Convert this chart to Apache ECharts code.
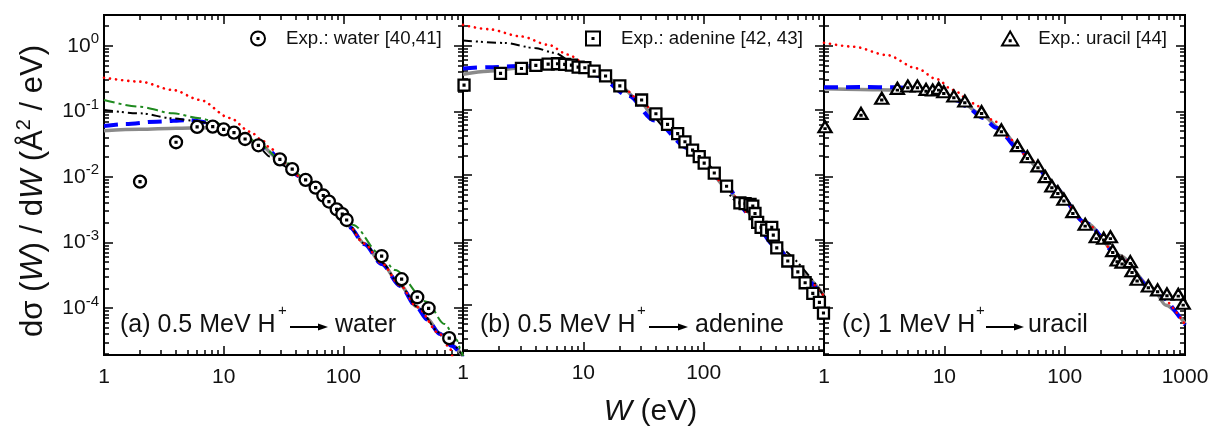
<!DOCTYPE html>
<html>
<head>
<meta charset="utf-8">
<title>Singly differential ionization cross sections</title>
<script src="https://cdn.jsdelivr.net/npm/echarts@6/dist/echarts.min.js"></script>
<style>
  html, body { margin: 0; padding: 0; background: #fff; }
  #chart { width: 1212px; height: 432px; }
</style>
</head>
<body>
<div id="chart"></div>
<script>
// ---------- axis ranges and ticks ----------
const X_MIN = 1, X_MAX = 1000;
const Y_MIN = 1.92e-5, Y_MAX = 2.94;
const xMajorTicks = [1, 10, 100, 1000];
const xLabelsAB = [1, 10, 100];
const xLabelsC = [1, 10, 100, 1000];
const yMajorTicks = [1e-4, 1e-3, 1e-2, 1e-1, 1];
const minorSteps = [2, 3, 4, 5, 6, 7, 8, 9];
const xDecades = [1, 10, 100];
const yDecades = [1e-5, 1e-4, 1e-3, 1e-2, 1e-1, 1];

// ---------- (a) 0.5 MeV H+ -> water ----------
const waterExpW = [2, 4, 6, 8.1, 10, 12.2, 15.1, 19.5, 29.5, 37.4, 48.4, 58.7, 68, 75.8, 87.9, 98, 106.6, 209, 307, 415, 516, 767];
const waterExpY = [0.00845, 0.0337, 0.0577, 0.0584, 0.053, 0.0472, 0.0378, 0.0303, 0.0185, 0.0131, 0.0090, 0.00684, 0.0052, 0.0042, 0.0032, 0.0027, 0.0022, 0.00062, 0.000275, 0.000146, 9.9e-5, 3.47e-5];

const waterGrayW = [1, 2, 4, 7, 10, 15, 20, 30, 46, 60, 80, 100, 113, 150, 209, 300, 410, 500, 641, 800, 1000];
const waterGrayY = [0.0506, 0.053, 0.055, 0.056, 0.052, 0.040, 0.0305, 0.0178, 0.0095, 0.0064, 0.0038, 0.0024, 0.00174, 0.00096, 0.00048, 0.00022, 0.000105, 6.9e-5, 4.13e-5, 2.75e-5, 1.84e-5];

const waterBlueW = [1, 1.5, 2.75, 5.2, 7.7, 10, 12.8, 18, 24.4, 30, 43.4, 60, 80, 100, 113, 150, 209, 300, 410, 500, 641, 800, 1000];
const waterBlueY = [0.0597, 0.064, 0.0695, 0.0735, 0.067, 0.057, 0.046, 0.032, 0.0242, 0.0178, 0.0101, 0.0063, 0.0037, 0.0023, 0.0017, 0.00094, 0.00047, 0.000215, 0.000103, 6.7e-5, 4.0e-5, 2.65e-5, 1.8e-5];

const waterGreenW = [1, 2, 3.77, 6.34, 8, 10, 15, 20, 30, 50, 80, 121, 200, 270, 496, 700, 885, 950, 1000];
const waterGreenY = [0.149, 0.117, 0.093, 0.0783, 0.071, 0.061, 0.043, 0.031, 0.0185, 0.0090, 0.0040, 0.00185, 0.00068, 0.00038, 0.000125, 5.7e-5, 3.27e-5, 2.4e-5, 1.8e-5];

const waterBlackW = [1, 2, 3.77, 5.5, 8, 10, 15, 20, 24.4, 30.6, 40, 50, 70, 100, 150, 209, 300, 410, 641, 1000];
const waterBlackY = [0.105, 0.093, 0.078, 0.072, 0.065, 0.057, 0.040, 0.027, 0.0204, 0.0152, 0.0112, 0.0083, 0.0049, 0.0024, 0.00097, 0.00049, 0.00022, 0.000106, 4.2e-5, 1.85e-5];

const waterRedW = [1, 2, 3.77, 6.34, 11.3, 16.6, 20.9, 24.4, 32.5, 45, 70, 100, 150, 209, 300, 410, 641, 780, 830];
const waterRedY = [0.325, 0.283, 0.211, 0.149, 0.079, 0.0489, 0.0365, 0.0275, 0.0163, 0.0095, 0.0049, 0.0024, 0.00096, 0.00048, 0.00022, 0.000104, 4.0e-5, 2.4e-5, 1.5e-5];

// ---------- (b) 0.5 MeV H+ -> adenine ----------
const adenineExpW = [1.02, 2.05, 3.06, 4.03, 5.1, 6.1, 7.0, 7.96, 9.05, 10.3, 12.3, 15.3, 20.1, 30.5, 40.1, 50.1, 60.8, 69.9, 80.9, 91.9, 101, 122.5, 155, 200, 221, 243, 256, 267, 281, 300, 334, 368, 379, 405, 500, 606, 697, 807, 916, 990];
const adenineExpY = [0.243, 0.37, 0.44, 0.49, 0.513, 0.52, 0.508, 0.496, 0.462, 0.452, 0.40, 0.337, 0.237, 0.1435, 0.0879, 0.0603, 0.0435, 0.0325, 0.0242, 0.0192, 0.0152, 0.0107, 0.0067, 0.0037, 0.0036, 0.0035, 0.0033, 0.00254, 0.00185, 0.00155, 0.00141, 0.00155, 0.00118, 0.00075, 0.00047, 0.00032, 0.000217, 0.000149, 0.000108, 7.4e-5];

const adenineGrayW = [1, 1.61, 3.06, 5.8, 9.6, 12, 15, 20.8, 30, 39, 50, 74.5, 100, 150, 221, 300, 400, 600, 1000];
const adenineGrayY = [0.357, 0.40, 0.45, 0.508, 0.50, 0.43, 0.34, 0.224, 0.13, 0.078, 0.052, 0.029, 0.0163, 0.0068, 0.0029, 0.00150, 0.00082, 0.00034, 0.00014];

const adenineBlueW = [1, 1.61, 3.06, 5.1, 7, 9.6, 13.2, 23.6, 39, 74.5, 100, 160, 235, 392, 653, 1000];
const adenineBlueY = [0.44, 0.46, 0.478, 0.50, 0.50, 0.478, 0.337, 0.167, 0.069, 0.0257, 0.0148, 0.0060, 0.0026, 0.00080, 0.00027, 0.000128];

const adenineBlackW = [1, 2.22, 3.95, 5.8, 7.5, 9, 10.5, 13, 20, 30, 50, 100, 200, 400, 1000];
const adenineBlackY = [1.19, 1.09, 0.91, 0.765, 0.605, 0.52, 0.46, 0.37, 0.23, 0.13, 0.052, 0.0155, 0.0037, 0.00078, 0.000135];

const adenineRedW = [1, 1.61, 3.06, 5.1, 7.5, 9.6, 12, 15, 20, 30, 40, 50, 75, 100, 150, 235, 400, 650, 1000];
const adenineRedY = [2.07, 1.78, 1.37, 1.02, 0.72, 0.57, 0.44, 0.345, 0.245, 0.14, 0.088, 0.060, 0.027, 0.0155, 0.0070, 0.0026, 0.00079, 0.00028, 0.000135];

// ---------- (c) 1 MeV H+ -> uracil ----------
const uracilExpW = [1.02, 2.03, 3.02, 4.07, 4.97, 5.97, 7.05, 8.0, 8.97, 9.9, 12.0, 14.8, 20.4, 29.8, 40.5, 49, 60, 69, 78.3, 87.8, 98.5, 117, 148, 183, 211, 240, 251, 273, 300, 351, 363, 400, 496, 592, 708, 879, 966];
const uracilExpY = [0.058, 0.093, 0.158, 0.224, 0.243, 0.243, 0.216, 0.211, 0.224, 0.199, 0.171, 0.1435, 0.0986, 0.0519, 0.0299, 0.0203, 0.0147, 0.0101, 0.00726, 0.00594, 0.00456, 0.00295, 0.00189, 0.00122, 0.00116, 0.00122, 0.00075, 0.00054, 0.0005, 0.00051, 0.00037, 0.000275, 0.000217, 0.000189, 0.000164, 0.000162, 0.000118];

const uracilGrayW = [1, 2, 4, 6, 8, 10, 13, 20, 30, 42, 60, 80, 150, 285, 538, 695, 1000];
const uracilGrayY = [0.22, 0.215, 0.211, 0.21, 0.2, 0.183, 0.15, 0.092, 0.052, 0.027, 0.0138, 0.0073, 0.0020, 0.00063, 0.0002, 0.00011, 5.8e-5];

const uracilBlueW = [1, 2, 4, 6, 8, 10, 13, 15, 21, 27, 42.3, 60, 79.8, 151, 285, 538, 1000];
const uracilBlueY = [0.232, 0.234, 0.232, 0.222, 0.205, 0.185, 0.145, 0.12, 0.079, 0.056, 0.0257, 0.0135, 0.0071, 0.00196, 0.00061, 0.000189, 5.5e-5];

const uracilRedW = [1, 1.76, 3.33, 5.9, 8.63, 11.8, 17.4, 25.4, 36.1, 50, 80, 150, 285, 538, 1000];
const uracilRedY = [1.11, 0.966, 0.72, 0.452, 0.31, 0.211, 0.132, 0.0737, 0.0365, 0.0195, 0.0072, 0.00195, 0.00062, 0.00019, 5.6e-5];

// ---------- styling ----------
const FONT = '"Liberation Sans", Arial, Helvetica, sans-serif';
const INK = '#111';
const xMinorTicks = xDecades.flatMap(d => minorSteps.map(m => m * d));
const yMinorTicks = yDecades.flatMap(d => minorSteps.map(m => m * d)).filter(v => v > Y_MIN && v < Y_MAX);

// open markers with a small dot in the middle
const SYM_CIRCLE = 'path://M0,-6A6,6,0,1,1,0,6A6,6,0,1,1,0,-6ZM-0.45,-0.45L0.45,-0.45L0.45,0.45L-0.45,0.45Z';
const SYM_SQUARE = 'path://M-6,-6L6,-6L6,6L-6,6ZM-0.45,-0.45L0.45,-0.45L0.45,0.45L-0.45,0.45Z';
const SYM_TRIANGLE = 'path://M0,-6L7,6L-7,6ZM-0.45,1.55L0.45,1.55L0.45,2.45L-0.45,2.45Z';

const GRIDS = [
  { left: 104, top: 15, width: 359, height: 340 },
  { left: 463, top: 15, width: 361, height: 340 },
  { left: 824, top: 15, width: 361, height: 340 }
];

const tickLine = { color: '#000', width: 1.5 };
const axisLine = { show: true, lineStyle: { color: '#000', width: 2 } };

function makeXAxes(p, labels) {
  const base = { type: 'log', logBase: 10, gridIndex: p, min: X_MIN, max: X_MAX, splitLine: { show: false }, axisLine };
  const noLabel = { show: false };
  return [
    Object.assign({}, base, {
      position: 'bottom',
      axisTick: { inside: true, length: 9, customValues: xMajorTicks, lineStyle: tickLine },
      axisLabel: {
        customValues: labels, margin: 12, fontSize: 21, color: INK, fontFamily: FONT,
        formatter: v => String(Math.round(v))
      }
    }, p === 1 ? {
      name: '{i|W} (eV)', nameLocation: 'middle', nameGap: 46,
      nameTextStyle: {
        fontSize: 30, color: INK, fontFamily: FONT, padding: [0, 0, 0, 14],
        rich: { i: { fontSize: 30, fontStyle: 'italic', color: INK, fontFamily: FONT } }
      }
    } : {}),
    Object.assign({}, base, { position: 'bottom', axisTick: { inside: true, length: 5, customValues: xMinorTicks, lineStyle: tickLine }, axisLabel: noLabel }),
    Object.assign({}, base, { position: 'top', axisTick: { inside: true, length: 9, customValues: xMajorTicks, lineStyle: tickLine }, axisLabel: noLabel }),
    Object.assign({}, base, { position: 'top', axisTick: { inside: true, length: 5, customValues: xMinorTicks, lineStyle: tickLine }, axisLabel: noLabel })
  ];
}

function makeYAxes(p) {
  const base = { type: 'log', logBase: 10, gridIndex: p, min: Y_MIN, max: Y_MAX, splitLine: { show: false }, axisLine };
  const noLabel = { show: false };
  const major = Object.assign({}, base, {
    position: 'left',
    axisTick: { inside: true, length: 9, customValues: yMajorTicks, lineStyle: tickLine },
    axisLabel: p === 0 ? {
      customValues: yMajorTicks, margin: 5, fontSize: 21, lineHeight: 28, color: INK, fontFamily: FONT,
      formatter: v => '10{sup|' + Math.round(Math.log10(v)) + '}',
      rich: { sup: { fontSize: 15, lineHeight: 15, verticalAlign: 'top', color: INK, fontFamily: FONT } }
    } : noLabel
  });
  if (p === 0) {
    Object.assign(major, {
      name: '{t|dσ (}{i|W}{t|) / d}{i|W}{t| (Å}{s|2}{t| / eV)}',
      nameLocation: 'middle', nameRotate: 90, nameGap: 52,
      nameTextStyle: {
        padding: [0, 12, 0, 0],
        rich: {
          t: { fontSize: 31, lineHeight: 38, color: INK, fontFamily: FONT },
          i: { fontSize: 31, lineHeight: 38, fontStyle: 'italic', color: INK, fontFamily: FONT },
          s: { fontSize: 20, lineHeight: 20, verticalAlign: 'top', color: INK, fontFamily: FONT }
        }
      }
    });
  }
  return [
    major,
    Object.assign({}, base, { position: 'left', axisTick: { inside: true, length: 5, customValues: yMinorTicks, lineStyle: tickLine }, axisLabel: noLabel }),
    Object.assign({}, base, { position: 'right', axisTick: { inside: true, length: 9, customValues: yMajorTicks, lineStyle: tickLine }, axisLabel: noLabel }),
    Object.assign({}, base, { position: 'right', axisTick: { inside: true, length: 5, customValues: yMinorTicks, lineStyle: tickLine }, axisLabel: noLabel })
  ];
}

const STYLE_GRAY  = { color: '#8a8a8a', width: 3.5, type: 'solid' };
const STYLE_BLUE  = { color: '#0000ff', width: 4, type: [14, 8] };
const STYLE_GREEN = { color: '#1f8a1f', width: 2, type: [11, 4, 3, 4] };
const STYLE_BLACK = { color: '#000000', width: 2, type: [9, 4, 2, 3, 2, 4] };
const STYLE_RED   = { color: '#ff0000', width: 2.6, type: [0.1, 6], cap: 'round' };

function pairs(ws, ys) { return ws.map((w, i) => [w, ys[i]]); }

function curve(name, p, ws, ys, style, z) {
  return {
    type: 'line', name, xAxisIndex: p * 4, yAxisIndex: p * 4,
    data: pairs(ws, ys), showSymbol: false, symbol: 'none',
    smooth: 0.3, smoothMonotone: 'x', lineStyle: style, z, silent: true
  };
}

function experiment(name, p, ws, ys, symbol, size) {
  return {
    type: 'scatter', name, xAxisIndex: p * 4, yAxisIndex: p * 4,
    data: pairs(ws, ys), symbol, symbolSize: size,
    itemStyle: { color: '#ffffff', borderColor: '#000000', borderWidth: 2.3, opacity: 1 },
    z: 10, silent: true
  };
}

const series = [
  curve('gray a', 0, waterGrayW, waterGrayY, STYLE_GRAY, 2),
  curve('blue a', 0, waterBlueW, waterBlueY, STYLE_BLUE, 3),
  curve('black a', 0, waterBlackW, waterBlackY, STYLE_BLACK, 4),
  curve('green a', 0, waterGreenW, waterGreenY, STYLE_GREEN, 4),
  curve('red a', 0, waterRedW, waterRedY, STYLE_RED, 5),
  experiment('Exp.: water [40,41]', 0, waterExpW, waterExpY, SYM_CIRCLE, [12, 12]),

  curve('gray b', 1, adenineGrayW, adenineGrayY, STYLE_GRAY, 2),
  curve('blue b', 1, adenineBlueW, adenineBlueY, STYLE_BLUE, 3),
  curve('black b', 1, adenineBlackW, adenineBlackY, STYLE_BLACK, 4),
  curve('red b', 1, adenineRedW, adenineRedY, STYLE_RED, 5),
  experiment('Exp.: adenine [42, 43]', 1, adenineExpW, adenineExpY, SYM_SQUARE, [11, 11]),

  curve('gray c', 2, uracilGrayW, uracilGrayY, STYLE_GRAY, 2),
  curve('blue c', 2, uracilBlueW, uracilBlueY, STYLE_BLUE, 3),
  curve('red c', 2, uracilRedW, uracilRedY, STYLE_RED, 5),
  experiment('Exp.: uracil [44]', 2, uracilExpW, uracilExpY, SYM_TRIANGLE, [13, 11])
];

function legendAt(name, left) {
  return {
    data: [name], left, top: 29, orient: 'horizontal', padding: 0,
    itemWidth: 46, itemHeight: 14, selectedMode: false,
    textStyle: { fontSize: 18.7, color: INK, fontFamily: FONT }
  };
}

// panel captions: "(x) E MeV H+ -> target"
function caption(x0, head, plusX, arrowX1, arrowX2, tailX, tail) {
  const yc = 325;
  return [
    { type: 'text', x: x0, y: yc, style: { text: head, fontSize: 25, fontFamily: FONT, fill: INK, verticalAlign: 'middle' } },
    { type: 'text', x: plusX, y: 311, style: { text: '+', fontSize: 15, fontFamily: FONT, fill: INK, verticalAlign: 'middle' } },
    { type: 'line', shape: { x1: arrowX1, y1: 327, x2: arrowX2 - 7, y2: 327 }, style: { stroke: '#000', lineWidth: 2 } },
    { type: 'polygon', shape: { points: [[arrowX2 - 10, 323.5], [arrowX2, 327], [arrowX2 - 10, 330.5]] }, style: { fill: '#000' } },
    { type: 'text', x: tailX, y: yc, style: { text: tail, fontSize: 25, fontFamily: FONT, fill: INK, verticalAlign: 'middle' } }
  ];
}

const option = {
  animation: false,
  backgroundColor: '#ffffff',
  grid: GRIDS,
  xAxis: [].concat(makeXAxes(0, xLabelsAB), makeXAxes(1, xLabelsAB), makeXAxes(2, xLabelsC)),
  yAxis: [].concat(makeYAxes(0), makeYAxes(1), makeYAxes(2)),
  legend: [
    legendAt('Exp.: water [40,41]', 250),
    legendAt('Exp.: adenine [42, 43]', 585),
    legendAt('Exp.: uracil [44]', 1001)
  ],
  graphic: [].concat(
    caption(120, '(a) 0.5 MeV H', 278, 290, 328, 335, 'water'),
    caption(480, '(b) 0.5 MeV H', 637, 649, 688, 695, 'adenine'),
    caption(842, '(c) 1 MeV H', 976, 986, 1024, 1028, 'uracil')
  ),
  series
};

const chart = echarts.init(document.getElementById('chart'), null, { renderer: 'canvas' });
chart.setOption(option);
</script>
</body>
</html>
